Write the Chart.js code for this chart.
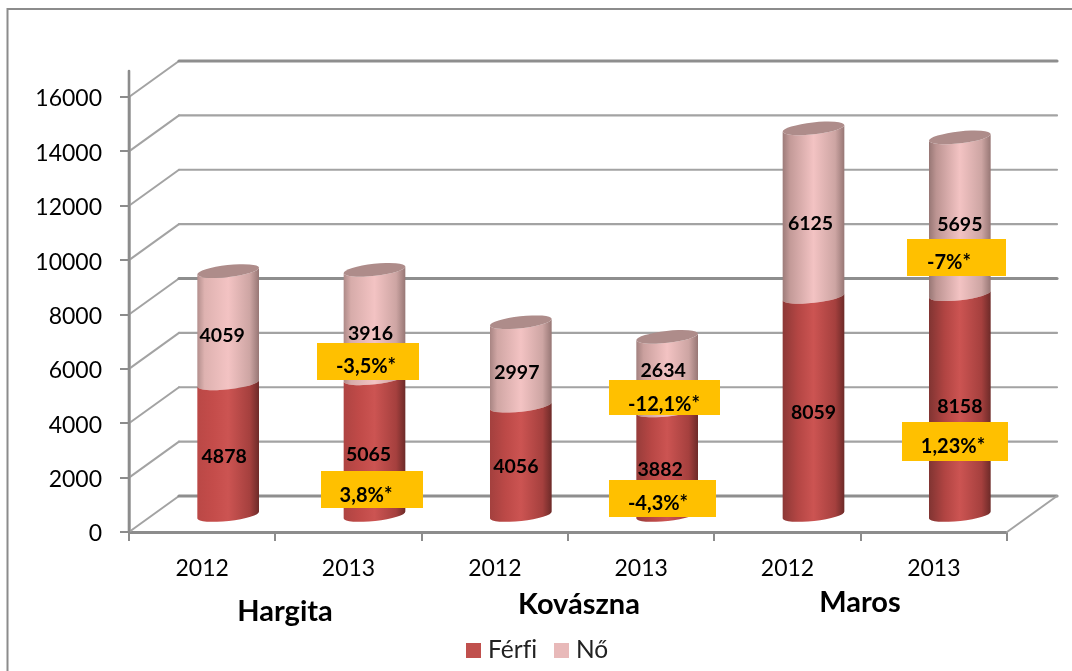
<!DOCTYPE html>
<html><head><meta charset="utf-8">
<style>html,body{margin:0;padding:0;background:#fff}canvas{display:block;filter:blur(0.45px)}</style>
<script src="https://cdn.jsdelivr.net/npm/chart.js@4"></script>
</head><body>
<div style="width:1072px;height:671px"><canvas id="c" width="1072" height="671"></canvas></div>
<script>
const categories = ['2012','2013','2012','2013','2012','2013'];
const counties = ['Hargita','Kovászna','Maros'];
const ferfi = [4878,5065,4056,3882,8059,8158];
const no = [4059,3916,2997,2634,6125,5695];
const yTicks = [0,2000,4000,6000,8000,10000,12000,14000,16000];
const ferfiLabelNudge = [8,8,6,7,7,2];
const noLabelNudge = [8,9,8,-4,10,8];
const noLabelShift = [-6,-4,-4,-4,-3,0];
const ferfiLabelShift = [-4,-6,-5,-7,0,0];
const callouts = [
  {t:'-3,5%*',x:317,y:343,w:102,h:37,tx:366,ty:367},
  {t:'3,8%*',x:321,y:471,w:102,h:37,tx:366,ty:496},
  {t:'-12,1%*',x:609,y:380,w:111,h:35,tx:664,ty:405},
  {t:'-4,3%*',x:609,y:480,w:107,h:37,tx:658,ty:504},
  {t:'-7%*',x:907,y:239,w:99,h:37,tx:949,ty:263},
  {t:'1,23%*',x:902,y:422,w:106,h:39,tx:953,ty:447}
];
const countyLabels = [{x:285,y:612},{x:579,y:605},{x:860,y:603}];
const legendSlots = [{box:466,text:488},{box:554,text:576}];
const DX=26, DY=-16, TOPLIFT=2, BACKX=50, BACKY=-36, RY=6, TILT=-0.11;
const FONT='Lato, Carlito, sans-serif';
const GRID='#a3a3a3', AXIS='#8c8c8c';

function mix(a,b,t){return a.map((v,i)=>Math.round(v+(b[i]-v)*t));}
function rgb(c){return 'rgb('+c.join(',')+')';}
function sideGradient(ctx,cx,rx,i,pink){
  const t=i/5;
  const g=ctx.createLinearGradient(cx-rx,0,cx+rx,0);
  if(pink){
    g.addColorStop(0,rgb(mix([178,142,140],[150,118,116],t)));
    g.addColorStop(0.12,rgb(mix([222,178,176],[188,148,146],t)));
    g.addColorStop(0.5,'rgb(243,195,195)');
    g.addColorStop(0.85,'rgb(205,165,163)');
    g.addColorStop(1,'rgb(150,118,116)');
  }else{
    g.addColorStop(0,rgb(mix([186,72,70],[128,52,50],t)));
    g.addColorStop(0.25,rgb(mix([196,76,74],[176,68,66],t)));
    g.addColorStop(0.5,'rgb(204,84,82)');
    g.addColorStop(0.85,'rgb(165,64,62)');
    g.addColorStop(1,'rgb(108,42,40)');
  }
  return g;
}
const cylinder3D={
  id:'cylinder3D',
  beforeDraw(chart){
    const c=chart.ctx;
    c.save();
    c.fillStyle='#fff';c.fillRect(0,0,chart.width,chart.height);
    c.strokeStyle='#8c8c8c';c.lineWidth=2;
    c.beginPath();c.moveTo(7.5,671);c.lineTo(7.5,9);c.lineTo(1072,9);c.stroke();
    c.restore();
  },
  beforeDatasetsDraw(chart){
    const c=chart.ctx,y=chart.scales.y,a=chart.chartArea;
    c.save();
    c.lineCap='round';
    yTicks.forEach(v=>{
      const p=y.getPixelForValue(v), heavy=(v%8000===0);
      c.strokeStyle=GRID;c.lineWidth=2;
      c.beginPath();c.moveTo(a.left,p);c.lineTo(a.left+BACKX,p+BACKY);c.stroke();
      c.strokeStyle=heavy?'#8e8e8e':GRID;c.lineWidth=heavy?3.2:2.2;
      c.beginPath();c.moveTo(a.left+BACKX,p+BACKY);c.lineTo(a.right+BACKX,p+BACKY);c.stroke();
    });
    const p0=y.getPixelForValue(0);
    c.strokeStyle=GRID;c.lineWidth=2;
    c.beginPath();c.moveTo(a.right,p0);c.lineTo(a.right+BACKX,p0+BACKY);c.stroke();
    c.strokeStyle=AXIS;c.lineWidth=2.6;
    c.beginPath();c.moveTo(a.left,p0);c.lineTo(a.left,y.getPixelForValue(16000)-26);c.stroke();
    c.restore();
  },
  beforeDatasetDraw(chart,args){
    const c=chart.ctx,meta=args.meta,pink=args.index===1,last=pink;
    c.save();
    meta.data.forEach((b,i)=>{
      const p=b.getProps(['x','y','base','width'],true);
      const cx=p.x+DX,rx=p.width/2,yt=p.y+DY-(last?TOPLIFT:0),yb=p.base+DY;
      const ex=rx*Math.cos(TILT),ey=rx*Math.sin(TILT);
      c.beginPath();
      c.moveTo(cx-ex,yt-ey);
      c.lineTo(cx-ex,yb-ey);
      c.ellipse(cx,yb,rx,RY,TILT,Math.PI,0,true);
      c.lineTo(cx+ex,yt+ey);
      c.ellipse(cx,yt,rx,RY,TILT,0,Math.PI,false);
      c.closePath();
      c.fillStyle=sideGradient(c,cx,rx,i,pink);
      c.fill();
      if(last){
        c.beginPath();
        c.ellipse(cx,yt,rx,RY,TILT,0,Math.PI*2);
        c.fillStyle='#ae8c8a';
        c.fill();
      }
    });
    c.restore();
    return false;
  },
  afterDatasetsDraw(chart){
    const c=chart.ctx;
    c.save();
    c.textAlign='center';c.textBaseline='middle';c.fillStyle='#000';
    c.font='bold 19.5px '+FONT;
    chart.data.datasets.forEach((ds,di)=>{
      const nudge=di===0?ferfiLabelNudge:noLabelNudge, shift=di===0?ferfiLabelShift:noLabelShift;
      chart.getDatasetMeta(di).data.forEach((b,i)=>{
        const p=b.getProps(['x','y','base'],true);
        c.fillText(ds.data[i],p.x+DX+shift[i],(p.y+p.base)/2+DY+nudge[i]);
      });
    });
    callouts.forEach(o=>{
      c.fillStyle='#ffc000';c.fillRect(o.x,o.y,o.w,o.h);
      c.fillStyle='#000';c.font='bold 20px '+FONT;
      c.fillText(o.t,o.tx,o.ty);
    });
    c.font='bold 29px '+FONT;
    counties.forEach((n,i)=>c.fillText(n,countyLabels[i].x,countyLabels[i].y));
    c.textRendering='optimizeSpeed';
    c.textAlign='left';c.font='24.5px '+FONT;
    chart.data.datasets.forEach((ds,i)=>{
      c.fillStyle=ds.legendColor;c.fillRect(legendSlots[i].box,643,15,15);
      c.fillStyle='#222';c.fillText(ds.label,legendSlots[i].text,650);
    });
    c.restore();
  }
};
Chart.defaults.animation=false;
new Chart(document.getElementById('c'),{
  type:'bar',
  plugins:[cylinder3D],
  data:{labels:categories,datasets:[
    {label:'Férfi',data:ferfi,backgroundColor:'#c0504d',legendColor:'#c0504d',stack:'a'},
    {label:'Nő',data:no,backgroundColor:'#eebbbb',legendColor:'#e8b9b9',stack:'a'}
  ]},
  options:{
    responsive:false,animation:false,
    layout:{padding:{left:0,right:65,top:97,bottom:0}},
    categoryPercentage:1,barPercentage:0.424,
    plugins:{tooltip:{enabled:false},legend:{display:false}},
    scales:{
      x:{stacked:true,offset:true,
        afterFit(s){s.height=139;},
        grid:{drawOnChartArea:false,drawTicks:true,tickLength:9,color:AXIS,lineWidth:2,offset:true},
        border:{color:AXIS,width:3},
        ticks:{font:{family:FONT,size:23},color:'#000',padding:14,maxRotation:0,autoSkip:false}
      },
      y:{stacked:true,min:0,max:16000,
        afterBuildTicks(s){s.ticks=yTicks.map(v=>({value:v}));},
        afterFit(s){s.width=129;},
        grid:{drawOnChartArea:false,drawTicks:true,tickLength:9,color:AXIS,lineWidth:2},
        border:{color:AXIS,width:2.6},
        ticks:{font:{family:FONT,size:23},color:'#000',padding:18,labelOffset:2,callback:v=>String(v)}
      }
    }
  }
});
</script>
</body></html>
